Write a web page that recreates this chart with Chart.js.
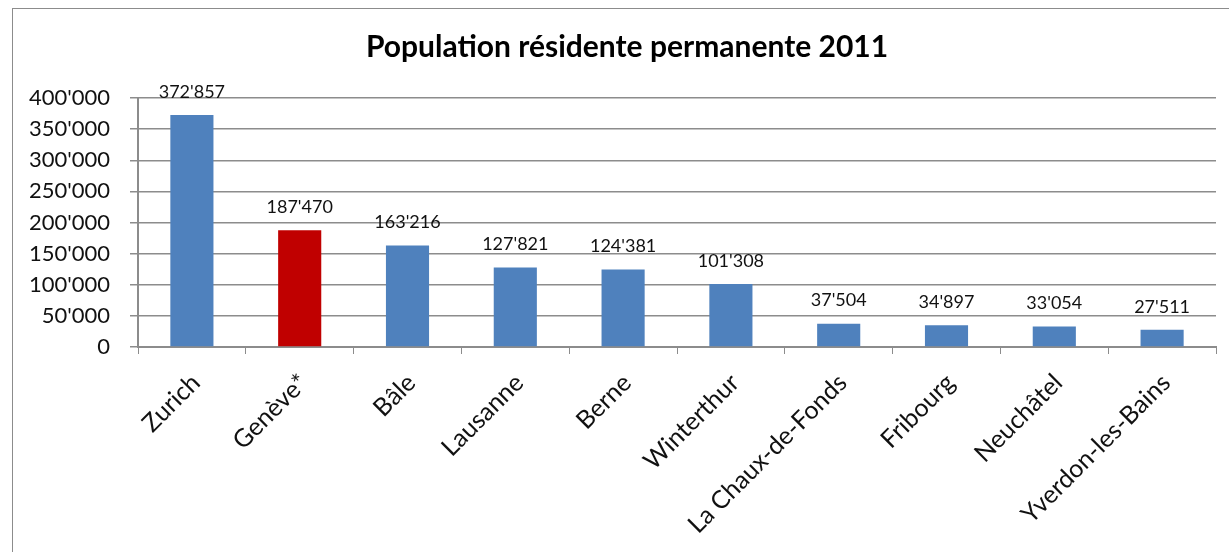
<!DOCTYPE html>
<html>
<head>
<meta charset="utf-8">
<script src="https://cdn.jsdelivr.net/npm/chart.js@4.4.0/dist/chart.umd.min.js"></script>
<style>
  html, body { margin: 0; padding: 0; background: #fff; overflow: hidden; }
  #frame { position: absolute; left: 12px; top: 8px; width: 1240px; height: 600px;
           border: 1px solid #8c8c8c; box-sizing: border-box; }
  #wrap { position: absolute; left: 0; top: 0; width: 1229px; height: 552px; }
</style>
</head>
<body>
<div id="frame"></div>
<div id="wrap"><canvas id="popChart"></canvas></div>
<script>
// Population résidente permanente 2011, villes suisses
const cities = ['Zurich', 'Genève*', 'Bâle', 'Lausanne', 'Berne', 'Winterthur',
                'La Chaux-de-Fonds', 'Fribourg', 'Neuchâtel', 'Yverdon-les-Bains'];
const population = [372857, 187470, 163216, 127821, 124381, 101308, 37504, 34897, 33054, 27511];
const yTicks = [0, 50000, 100000, 150000, 200000, 250000, 300000, 350000, 400000];
const chartTitle = 'Population résidente permanente 2011';

const BLUE = '#4f81bd';
const RED = '#c00000';
const GRID = '#8c8c8c';
const FONT = 'Lato, "Open Sans", sans-serif';

function swiss(n) {
    return String(n).replace(/\B(?=(\d{3})+(?!\d))/g, "'");
}

// title drawn centred on the frame rather than the canvas
const frameTitle = {
    id: 'frameTitle',
    afterDraw(chart) {
        const ctx = chart.ctx;
        ctx.save();
        ctx.font = 'bold 30px ' + FONT;
        ctx.fillStyle = '#000';
        ctx.textAlign = 'center';
        ctx.textBaseline = 'middle';
        ctx.fillText(chartTitle, 627, 47);
        ctx.restore();
    }
};

// draws the value above each bar
const valueLabels = {
    id: 'valueLabels',
    afterDatasetsDraw(chart) {
        const ctx = chart.ctx;
        const meta = chart.getDatasetMeta(0);
        ctx.save();
        ctx.font = '18px ' + FONT;
        ctx.fillStyle = '#111';
        ctx.textAlign = 'center';
        ctx.textBaseline = 'middle';
        meta.data.forEach(function (bar, i) {
            ctx.fillText(swiss(population[i]), bar.x, bar.y - 23);
        });
        ctx.restore();
    }
};

document.addEventListener('DOMContentLoaded', function () {
    const ctx = document.getElementById('popChart').getContext('2d');
    new Chart(ctx, {
        type: 'bar',
        data: {
            labels: cities,
            datasets: [{
                data: population,
                backgroundColor: cities.map(c => c === 'Genève*' ? RED : BLUE),
                categoryPercentage: 1.0,
                barPercentage: 0.4
            }]
        },
        options: {
            responsive: true,
            maintainAspectRatio: false,
            animation: false,
            layout: { padding: { left: 10, right: 13, top: 98, bottom: 0 } },
            plugins: {
                legend: { display: false },
                tooltip: { enabled: false },
                title: { display: false }
            },
            scales: {
                x: {
                    grid: {
                        offset: true,
                        drawOnChartArea: false,
                        drawTicks: true,
                        tickLength: 7,
                        color: GRID
                    },
                    border: { color: GRID, width: 2 },
                    ticks: {
                        color: '#111',
                        font: { family: FONT, size: 25 },
                        minRotation: 45,
                        maxRotation: 45,
                        autoSkip: false,
                        labelOffset: 4,
                        padding: 14
                    },
                    afterFit(scale) { scale.height = 205; }
                },
                y: {
                    min: 0,
                    max: 400000,
                    afterBuildTicks(scale) {
                        scale.ticks = yTicks.map(v => ({ value: v }));
                    },
                    grid: { color: GRID, lineWidth: 1.5, tickLength: 8 },
                    border: { color: GRID, width: 2 },
                    ticks: {
                        color: '#111',
                        font: { family: FONT, size: 22 },
                        padding: 20,
                        callback: v => swiss(v)
                    },
                    afterFit(scale) { scale.width = 128; }
                }
            }
        },
        plugins: [valueLabels, frameTitle]
    });
});
</script>
</body>
</html>
